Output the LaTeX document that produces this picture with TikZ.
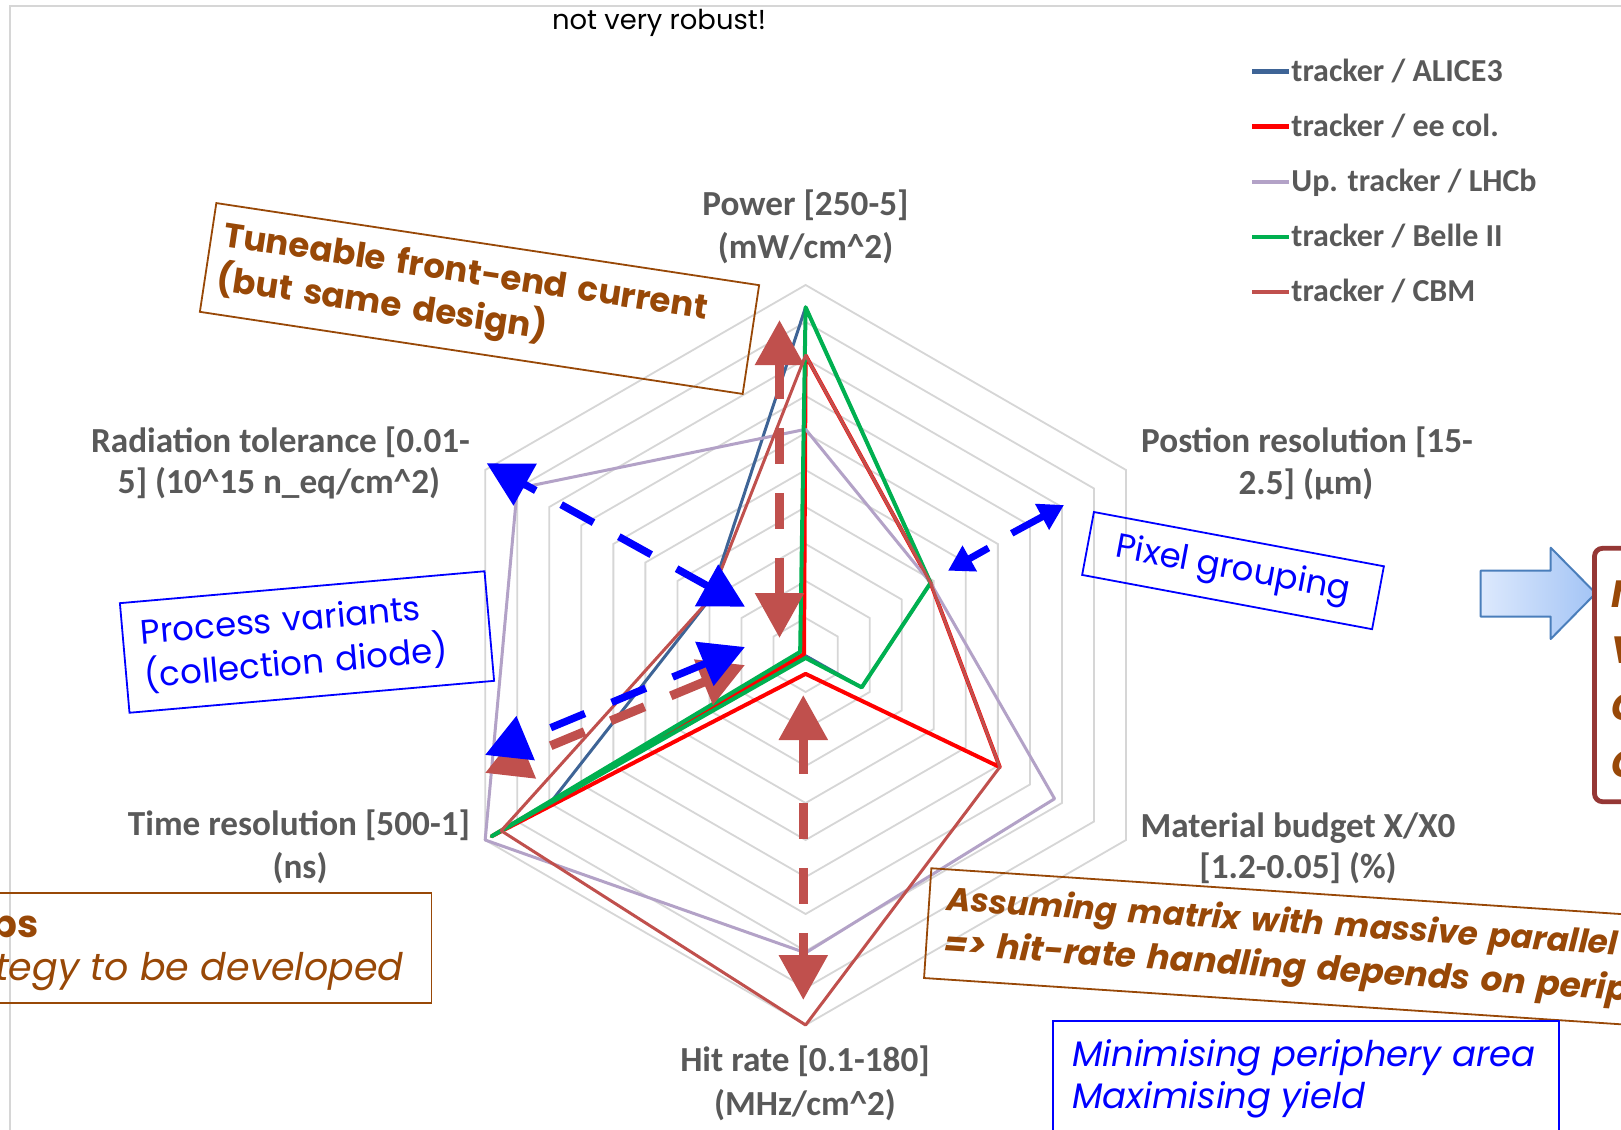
\documentclass[tikz,border=0pt]{standalone}
\usepackage{fontspec}
\setmainfont{Carlito}
\newfontfamily\gothic{Poppins}
\usetikzlibrary{arrows.meta,calc}
\definecolor{axgray}{HTML}{595959}
\definecolor{cAl}{HTML}{3E6496}
\definecolor{cEe}{HTML}{FF0000}
\definecolor{cLh}{HTML}{B3A2C7}
\definecolor{cBe}{HTML}{00B050}
\definecolor{cCb}{HTML}{C0504D}
\definecolor{gridc}{HTML}{D6D6D6}
\definecolor{annbrown}{HTML}{984807}
\definecolor{annblue}{HTML}{0000FF}
\definecolor{boxred}{HTML}{953735}
\definecolor{arrfillL}{HTML}{DDE9FD}
\definecolor{arrfillR}{HTML}{A3C4F5}
\definecolor{arrline}{HTML}{4A7EBB}
\newcommand\radarser[7]{\draw[#1] (-90:{37*#2}) -- (-30:{37*#3}) -- (30:{37*#4}) -- (90:{37*#5}) -- (150:{37*#6}) -- (210:{37*#7}) -- cycle;}
\newcommand\nobreaks{\hyphenpenalty=10000\exhyphenpenalty=10000}
\begin{document}
\begin{tikzpicture}[x=0.5pt,y=-0.5pt,
  axlabel/.style={anchor=base, inner sep=0pt, text=axgray, font=\bfseries\fontsize{17.6}{21.5}\selectfont},
  legtext/.style={anchor=base west, inner sep=0pt, text=axgray, font=\bfseries\fontsize{16}{19}\selectfont},
  legline/.style={line width=2.2pt},
  series/.style={line width=1.5pt, line join=round},
  redarr/.style={cCb, line width=4.5pt, dash pattern=on 18.3pt off 14.2pt,
     {Triangle[length=22.5pt,width=23.5pt]}-{Triangle[length=22.5pt,width=23.5pt]}},
  bluearr/.style={annblue, line width=3.7pt, dash pattern=on 18.5pt off 14.5pt,
     {Triangle[length=22pt,width=23pt]}-{Triangle[length=22pt,width=23pt]}},
  pixarr/.style={annblue, line width=3.5pt, -{Triangle[length=12.5pt,width=14pt]}},
  annbox/.style={line width=0.9pt, inner ysep=2pt},
]
\useasboundingbox (0,0) rectangle (1621,1129);
\clip (0,0) rectangle (1621,1129);
\fill[white] (0,0) rectangle (1621,1129);
% chart border
\draw[gridc, line width=1.2pt] (10,1140) -- (10,6) -- (1640,6);

% radar grid and series
\begin{scope}[shift={(805.6,655)}]
  \foreach \k in {1,...,10}
    \draw[gridc, line width=0.9pt] (-90:{37*\k}) -- (-30:{37*\k}) -- (30:{37*\k}) -- (90:{37*\k}) -- (150:{37*\k}) -- (210:{37*\k}) -- cycle;
  \radarser{series, cAl}{9.4}{3.9}{1.75}{0.02}{7.95}{3.0}
  \radarser{series, cEe, line width=2pt}{8.1}{3.9}{6.06}{0.51}{9.8}{0.05}
  \radarser{series, cLh}{6.1}{3.9}{7.77}{8.05}{10}{9.0}
  \radarser{series, cBe, line width=2pt}{9.4}{3.9}{1.75}{0.08}{9.8}{0.17}
  \radarser{series, cCb}{8.1}{3.9}{6.06}{10}{9.5}{3.0}
\end{scope}

% axis labels
\node[axlabel] (pw1) at (805.5,215) {Power [250-5]};
\node[axlabel] (pw2) at (805.5,258) {(mW/cm\textasciicircum 2)};
\node[axlabel] (rt1) at (280.5,452) {Radiation tolerance [0.01-};
\node[axlabel] (rt2) at (279,493) {5] (10\textasciicircum 15 n\_eq/cm\textasciicircum 2)};
\node[axlabel] (ps1) at (1307,452) {Postion resolution [15-};
\node[axlabel] (ps2) at (1306,494) {2.5] (µm)};
\node[axlabel] (mb1) at (1298,837) {Material budget X/X0};
\node[axlabel] (mb2) at (1298,878) {[1.2-0.05] (\%)};
\node[axlabel] (tr1) at (299,835) {Time resolution [500-1]};
\node[axlabel] (tr2) at (300,878) {(ns)};
\node[axlabel] (hr1) at (805,1071.7) {Hit rate [0.1-180]};
\node[axlabel] (hr2) at (805,1115) {(MHz/cm\textasciicircum 2)};

% legend
\draw[legline, cAl] (1252,71.7) -- (1289,71.7);
\node[legtext] (lg1) at (1291,81.7) {tracker / ALICE3};
\draw[legline, cEe] (1252,126.7) -- (1289,126.7);
\node[legtext] (lg2) at (1291,136.7) {tracker / ee col.};
\draw[legline, cLh] (1252,181.7) -- (1289,181.7);
\node[legtext] (lg3) at (1291,191.7) {Up. tracker / LHCb};
\draw[legline, cBe] (1252,236.7) -- (1289,236.7);
\node[legtext] (lg4) at (1291,246.7) {tracker / Belle II};
\draw[legline, cCb] (1252,291.7) -- (1289,291.7);
\node[legtext] (lg5) at (1291,301.7) {tracker / CBM};

% dashed arrows
\coordinate (rpT) at (779.5,320); \coordinate (rpB) at (779.5,638);
\coordinate (rhT) at (803.3,695); \coordinate (rhB) at (803.3,1000);
\coordinate (rlA) at (485,773);   \coordinate (rlB) at (745,665);
\coordinate (buA) at (486.7,463.3); \coordinate (buB) at (745,606.7);
\coordinate (blA) at (485,755);   \coordinate (blB) at (745,647);
\draw[redarr] (rpT) -- (rpB);
\draw[redarr] (rhT) -- (rhB);
\draw[redarr, dash phase=18.3pt] (rlA) -- (rlB);
\draw[bluearr, dash phase=11.5pt] (buA) -- (buB);
\draw[bluearr, dash phase=18.5pt] (blA) -- (blB);
\coordinate (pgA) at (988.5,548); \coordinate (pgAt) at (948,570.7);
\coordinate (pgB) at (1011.7,533.3); \coordinate (pgBt) at (1064,505);
\draw[pixarr] (pgA) -- (pgAt);
\draw[pixarr] (pgB) -- (pgBt);

% annotation boxes
\node[annbox, draw=annbrown, rotate=-8.6, minimum width=274.5pt, minimum height=55pt,
      text width=262pt, inner xsep=6pt, align=left, text=annbrown,
      font=\gothic\bfseries\fontsize{17}{22}\selectfont\nobreaks] (tune) at (479.5,298.5)
      {Tuneable front-end current\\(but same design)};
\node[annbox, draw=annblue, rotate=5, minimum width=183pt, minimum height=55pt,
      text width=165pt, inner xsep=9pt, align=left, text=annblue,
      font=\gothic\fontsize{17}{22}\selectfont\nobreaks] (proc) at (307,642)
      {Process variants\\(collection diode)};
\node[annbox, draw=annblue, rotate=-10.6, minimum width=147.5pt, minimum height=32pt,
      align=center, text=annblue, font=\gothic\fontsize{17}{20}\selectfont] (pix) at (1233,570.6)
      {Pixel grouping};
\node[annbox, draw=annbrown, rotate=-3.8, anchor=north west, minimum width=420pt, minimum height=55pt,
      text width=402pt, inner xsep=9pt, align=left, text=annbrown,
      font=\gothic\bfseries\itshape\fontsize{16.3}{22.5}\selectfont\nobreaks] (assu) at (930.5,867.3)
      {Assuming matrix with massive parallel\\{\fontsize{17.1}{22.5}\selectfont => hit-rate handling depends on perip}};

% bottom-left box
\draw[annbrown, line width=0.9pt] (-10,892.7) rectangle (431.5,1002.7);
\node[anchor=base east, inner sep=0pt, text=annbrown, font=\gothic\bfseries\fontsize{19}{22}\selectfont] (bl1) at (39,937) {ps};
\node[anchor=base east, inner sep=0pt, text=annbrown, font=\gothic\itshape\fontsize{19}{22}\selectfont] (bl2) at (404,980) {tegy to be developed};

% bottom-right box
\draw[annblue, line width=1pt] (1053,1020.7) rectangle (1558.6,1145);
\node[anchor=base west, inner sep=0pt, text=annblue, font=\gothic\itshape\fontsize{17.7}{22}\selectfont] (mn1) at (1072,1066.7) {Minimising periphery area};
\node[anchor=base west, inner sep=0pt, text=annblue, font=\gothic\itshape\fontsize{17.7}{22}\selectfont] (mn2) at (1072,1108) {Maximising yield};

% top text
\node[anchor=base, inner sep=0pt, font=\gothic\fontsize{13.7}{16}\selectfont] (nvr) at (659,29.3) {not very robust!};

% block arrow and right box
\shade[left color=arrfillL, right color=arrfillR, draw=arrline, line width=1pt, line join=round]
  (1480.7,570.7) -- (1550.7,570.7) -- (1550.7,547.7) -- (1595.7,593.3) -- (1550.7,639) -- (1550.7,616.7) -- (1480.7,616.7) -- cycle;
\draw[boxred, line width=2.4pt, rounded corners=4pt] (1594.5,548.3) rectangle (1700,801.7);
\foreach \yy/\ch [count=\i] in {607/M,663/V,720/C,777/C}
  \node[anchor=base west, inner sep=0pt, text=annbrown, font=\gothic\bfseries\itshape\fontsize{19}{22}\selectfont] (rb\i) at (1611,\yy) {\ch};
\end{tikzpicture}
\end{document}
